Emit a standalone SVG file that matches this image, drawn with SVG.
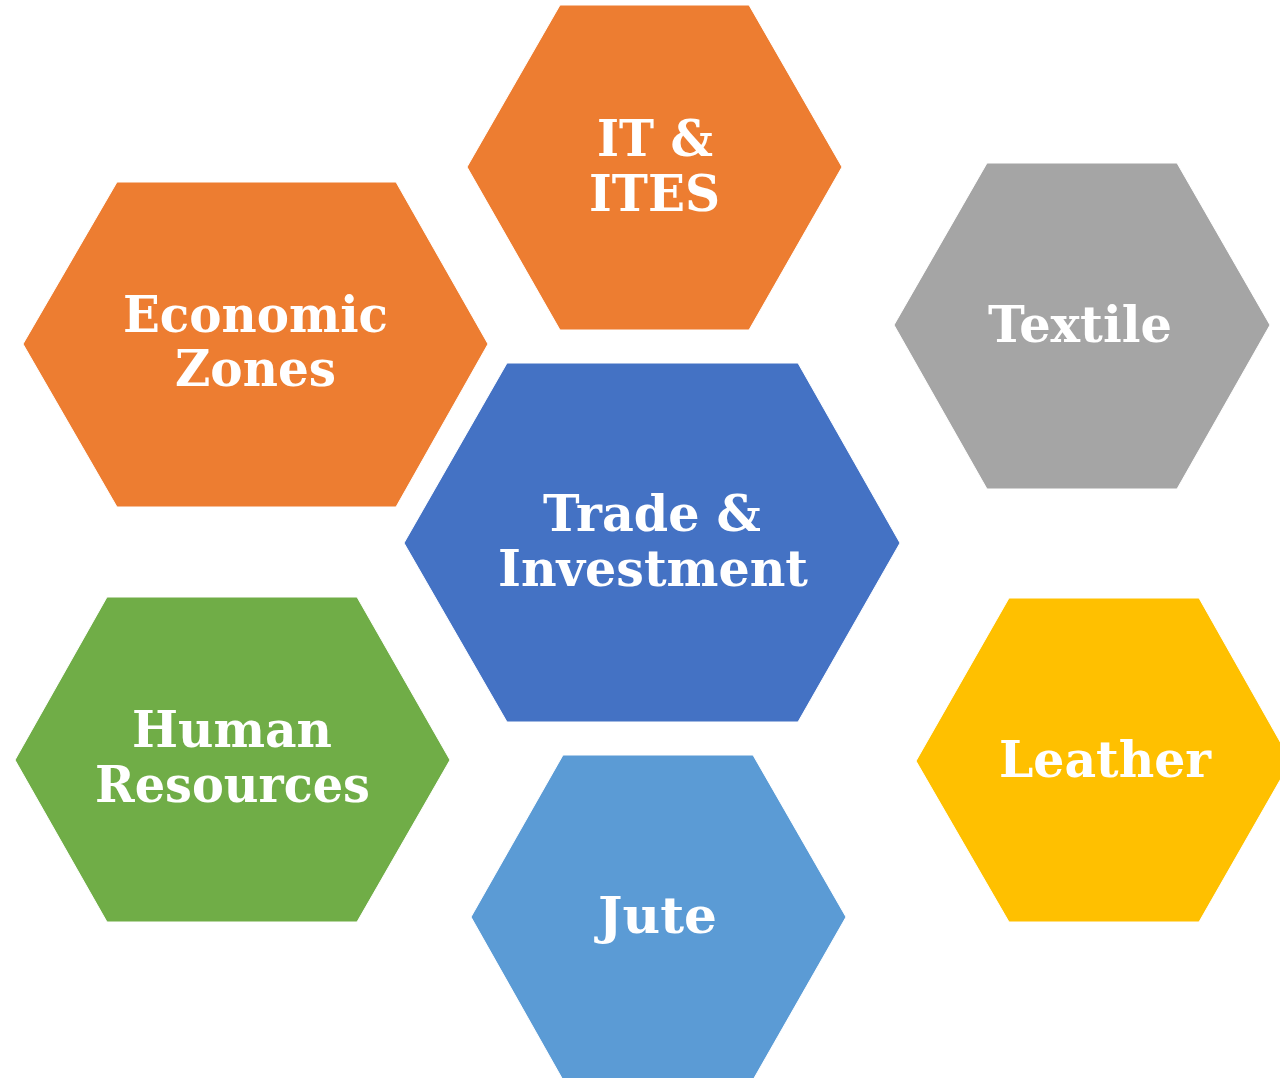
<svg xmlns="http://www.w3.org/2000/svg" width="1280" height="1078" viewBox="0 0 1280 1078">
  <style>
    .hex { stroke: #ffffff; stroke-width: 1; }
    .lbl { font-family: "DejaVu Serif", "Liberation Serif", Georgia, serif; font-weight: bold; font-size: 50px; fill: #ffffff; }
  </style>
  <rect width="1280" height="1078" fill="#ffffff"/>
  <g id="node-it-ites">
    <polygon class="hex" fill="#ED7D31" points="560,5 749,5 842,167 749,330 560,330 467,167"/>
    <text class="lbl" x="597" y="156" textLength="116" lengthAdjust="spacingAndGlyphs">IT &amp;</text>
    <text class="lbl" x="589" y="211" textLength="131" lengthAdjust="spacingAndGlyphs">ITES</text>
  </g>
  <g id="node-economic-zones">
    <polygon class="hex" fill="#ED7D31" points="117,182 396,182 488,344 396,507 117,507 23,344"/>
    <text class="lbl" x="123" y="332" textLength="265" lengthAdjust="spacingAndGlyphs">Economic</text>
    <text class="lbl" x="175" y="386" textLength="161" lengthAdjust="spacingAndGlyphs">Zones</text>
  </g>
  <g id="node-textile">
    <polygon class="hex" fill="#A5A5A5" points="987,163 1177,163 1270,325 1177,489 987,489 894,325"/>
    <text class="lbl" x="988" y="342" textLength="184" lengthAdjust="spacingAndGlyphs">Textile</text>
  </g>
  <g id="node-trade-investment">
    <polygon class="hex" fill="#4472C4" points="507,363 798,363 900,543 798,722 507,722 404,543"/>
    <text class="lbl" x="543" y="531" textLength="218" lengthAdjust="spacingAndGlyphs">Trade &amp;</text>
    <text class="lbl" x="498" y="586" textLength="310" lengthAdjust="spacingAndGlyphs">Investment</text>
  </g>
  <g id="node-human-resources">
    <polygon class="hex" fill="#70AD47" points="107,597 357,597 450,760 357,922 107,922 15,760"/>
    <text class="lbl" x="132" y="747" textLength="200" lengthAdjust="spacingAndGlyphs">Human</text>
    <text class="lbl" x="95" y="802" textLength="275" lengthAdjust="spacingAndGlyphs">Resources</text>
  </g>
  <g id="node-leather">
    <polygon class="hex" fill="#FFC000" points="1009,598 1199,598 1291,761 1199,922 1009,922 916,761"/>
    <text class="lbl" x="999" y="777" textLength="212" lengthAdjust="spacingAndGlyphs">Leather</text>
  </g>
  <g id="node-jute">
    <polygon class="hex" fill="#5B9BD5" points="563,755 753,755 846,917 753,1080 563,1080 471,917"/>
    <text class="lbl" x="598" y="933" textLength="119" lengthAdjust="spacingAndGlyphs">Jute</text>
  </g>
  <g id="connectors"></g>
</svg>
